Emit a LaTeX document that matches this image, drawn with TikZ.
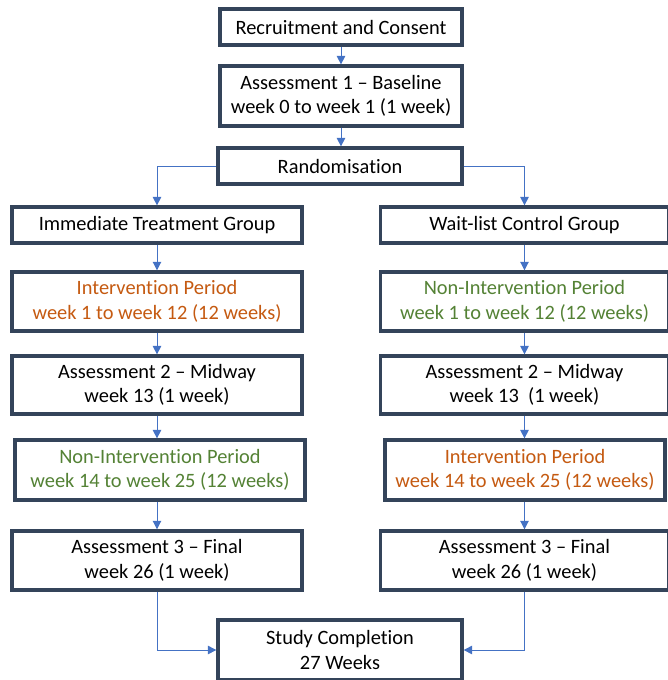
\documentclass[tikz,border=0pt]{standalone}
\usepackage{fontspec}
\setmainfont{Carlito}[Ligatures={TeX,NoCommon}]
\usetikzlibrary{arrows.meta}

\definecolor{boxline}{HTML}{34445A}
\definecolor{arrowblue}{HTML}{4472C4}
\definecolor{intorange}{HTML}{C55A11}
\definecolor{nongreen}{HTML}{548235}

\tikzset{
    stage/.style={draw=boxline, line width=2.3pt, fill=white, align=center,
        font=\fontsize{14.5}{17.5}\selectfont, inner sep=0pt},
    flow/.style={arrowblue, line width=0.7pt, -{Triangle[length=6pt,width=6pt]}},
}

\begin{document}
\begin{tikzpicture}[x=0.025cm, y=-0.025cm]
    \useasboundingbox (0,0) rectangle (668,680);
    % top column
    \node[stage, minimum width=6.05cm, minimum height=0.9cm] (rec) at (341,27) {Recruitment and Consent};
    \node[stage, minimum width=6.05cm, minimum height=1.5cm] (base) at (341,96) {Assessment 1 – Baseline\\week 0 to week 1 (1 week)};
    \node[stage, minimum width=6.1cm, minimum height=0.9cm] (rand) at (340,166) {Randomisation};
    % immediate treatment group
    \node[stage, minimum width=7.25cm, minimum height=0.9cm] (imm) at (157,225) {Immediate Treatment Group};
    \node[stage, minimum width=7.25cm, minimum height=1.48cm, text=intorange] (intA) at (157,301.5) {Intervention Period\\week 1 to week 12 (12 weeks)};
    \node[stage, minimum width=7.25cm, minimum height=1.45cm] (midA) at (157,385) {Assessment 2 – Midway\\week 13 (1 week)};
    \node[stage, minimum width=7.25cm, minimum height=1.5cm, text=nongreen] (nonA) at (160,470) {Non-Intervention Period\\week 14 to week 25 (12 weeks)};
    \node[stage, minimum width=7.25cm, minimum height=1.48cm] (finA) at (157,560.5) {Assessment 3 – Final\\week 26 (1 week)};
    % wait-list control group
    \node[stage, minimum width=7.2cm, minimum height=0.9cm] (wait) at (524.5,225) {Wait-list Control Group};
    \node[stage, minimum width=7.2cm, minimum height=1.48cm, text=nongreen] (nonB) at (524.5,301.5) {Non-Intervention Period\\week 1 to week 12 (12 weeks)};
    \node[stage, minimum width=7.2cm, minimum height=1.45cm] (midB) at (524.5,385) {Assessment 2 – Midway\\week 13\ \ (1 week)};
    \node[stage, minimum width=7cm, minimum height=1.5cm, text=intorange] (intB) at (525,470) {Intervention Period\\week 14 to week 25 (12 weeks)};
    \node[stage, minimum width=7.2cm, minimum height=1.48cm] (finB) at (524.5,560.5) {Assessment 3 – Final\\week 26 (1 week)};
    % end
    \node[stage, minimum width=6.1cm, minimum height=1.5cm] (done) at (340,650) {Study Completion\\27 Weeks};

    \draw[flow] (rec) -- (base);
    \draw[flow] (base.south) -- (base.south |- rand.north);
    \draw[flow] (rand.west) -| (imm.north);
    \draw[flow] (rand.east) -| (wait.north);
    \draw[flow] (imm) -- (intA);
    \draw[flow] (intA) -- (midA);
    \draw[flow] (midA.south) -- (midA.south |- nonA.north);
    \draw[flow] (nonA.south -| finA.north) -- (finA.north);
    \draw[flow] (wait) -- (nonB);
    \draw[flow] (nonB) -- (midB);
    \draw[flow] (midB.south) -- (midB.south |- intB.north);
    \draw[flow] (intB.south -| finB.north) -- (finB.north);
    \draw[flow] (finA.south) |- (done.west);
    \draw[flow] (finB.south) |- (done.east);
\end{tikzpicture}
\end{document}
